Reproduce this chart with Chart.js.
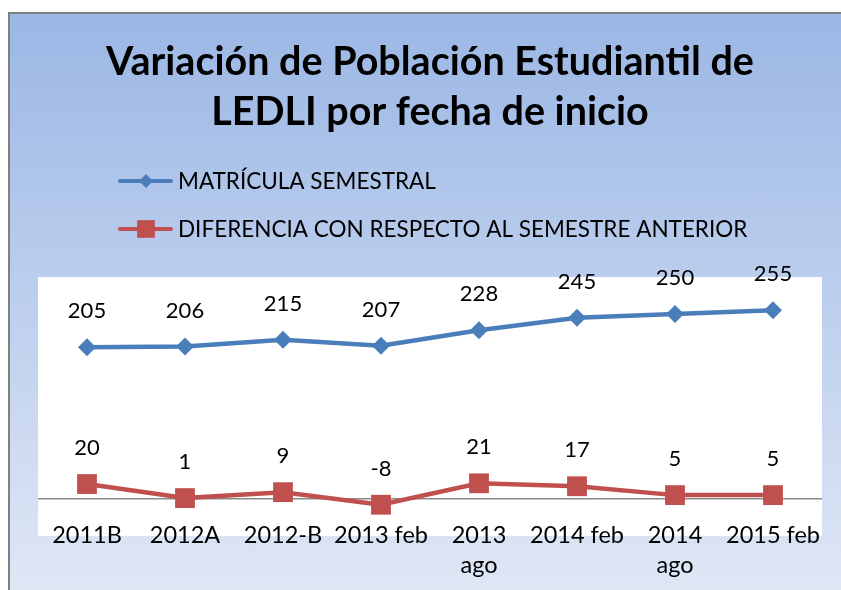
<!DOCTYPE html>
<html>
<head>
<meta charset="utf-8">
<script src="https://cdn.jsdelivr.net/npm/chart.js@4.4.1/dist/chart.umd.min.js"></script>
<style>
	html, body { margin: 0; padding: 0; background: #ffffff; }
	#frame {
		position: absolute;
		left: 8px; top: 12px;
		width: 833px; height: 578px;
		border-left: 2px solid #808080;
		border-top: 2px solid #808080;
		background: linear-gradient(#9bb7e5, #dfe7f5);
	}
	#chart { display: block; }
</style>
</head>
<body>
<div id="frame"><canvas id="chart" width="831" height="576"></canvas></div>
<script>
// donnees
var categories = ['2011B', '2012A', '2012-B', '2013 feb', ['2013', 'ago'], '2014 feb', ['2014', 'ago'], '2015 feb'];
var matricula = [205, 206, 215, 207, 228, 245, 250, 255];
var diferencia = [20, 1, 9, -8, 21, 17, 5, 5];
var seriesNames = ['MATRÍCULA SEMESTRAL', 'DIFERENCIA CON RESPECTO AL SEMESTRE ANTERIOR'];
var titleLines = ['Variación de Población Estudiantil de', 'LEDLI por fecha de inicio'];

var FONT = 'Lato, "Open Sans", sans-serif';
var BLUE = '#4a7ebb';
var RED = '#c0504d';

document.addEventListener('DOMContentLoaded', function()
{
	drawChart();
});

// fond blanc de la zone de trace (descend un peu sous l'axe comme dans Excel)
var plotBackground = {
	id: 'plotBackground',
	beforeDraw: function(chart) {
		var a = chart.chartArea;
		var ctx = chart.ctx;
		ctx.save();
		ctx.fillStyle = '#ffffff';
		ctx.fillRect(a.left, a.top, a.right - a.left, a.bottom - a.top + 15);
		ctx.restore();
	}
};

// titre + legende dessines a la main
var decor = {
	id: 'decor',
	afterDraw: function(chart) {
		var ctx = chart.ctx;
		var a = chart.chartArea;
		ctx.save();
		ctx.fillStyle = '#000000';
		ctx.textAlign = 'center';
		ctx.textBaseline = 'middle';
		ctx.font = 'bold 39.5px ' + FONT;
		var cx = (a.left + a.right) / 2;
		titleLines.forEach(function(line, i) {
			ctx.fillText(line, cx, 48 + i * 50);
		});

		ctx.textAlign = 'left';
		ctx.font = '22.5px ' + FONT;
		chart.data.datasets.forEach(function(ds, i) {
			var y = 167 + i * 48;
			ctx.strokeStyle = ds.borderColor;
			ctx.lineWidth = 4;
			ctx.lineCap = 'round';
			ctx.beginPath();
			ctx.moveTo(110, y);
			ctx.lineTo(161, y);
			ctx.stroke();
			ctx.fillStyle = ds.backgroundColor;
			Chart.helpers.drawPoint(ctx, {
				pointStyle: ds.pointStyle,
				radius: i == 0 ? 7 : 12.5,
				rotation: 0,
				borderWidth: 0
			}, 136, y);
			ctx.fillStyle = '#000000';
			ctx.fillText(ds.label, 168, y + 1);
		});
		ctx.restore();
	}
};

// etiquettes de valeurs au-dessus des points
var valueLabels = {
	id: 'valueLabels',
	afterDatasetsDraw: function(chart) {
		var ctx = chart.ctx;
		ctx.save();
		ctx.fillStyle = '#000000';
		ctx.textAlign = 'center';
		ctx.textBaseline = 'middle';
		ctx.font = '22px ' + FONT;
		chart.data.datasets.forEach(function(ds, i) {
			var meta = chart.getDatasetMeta(i);
			meta.data.forEach(function(pt, j) {
				ctx.fillText(String(ds.data[j]), pt.x, pt.y - 36);
			});
		});
		ctx.restore();
	}
};

function drawChart()
{
	var ctx = document.getElementById('chart').getContext('2d');
	new Chart(ctx, {
		type: 'line',
		data: {
			labels: categories,
			datasets: [{
				label: seriesNames[0],
				data: matricula,
				borderColor: BLUE,
				backgroundColor: BLUE,
				borderWidth: 4.5,
				pointStyle: 'rectRot',
				pointRadius: 9,
				pointBorderWidth: 0,
				tension: 0
			}, {
				label: seriesNames[1],
				data: diferencia,
				borderColor: RED,
				backgroundColor: RED,
				borderWidth: 4.5,
				pointStyle: 'rect',
				pointRadius: 14,
				pointBorderWidth: 0,
				tension: 0
			}]
		},
		options: {
			responsive: false,
			animation: false,
			layout: {
				padding: { left: 28, right: 19, top: 263, bottom: 0 }
			},
			plugins: {
				legend: { display: false },
				title: { display: false },
				tooltip: { enabled: false }
			},
			scales: {
				x: {
					offset: true,
					grid: { display: false, drawTicks: false },
					border: { display: false },
					ticks: {
						color: '#000000',
						font: { family: FONT, size: 23.5, lineHeight: 1.25 },
						padding: 0,
						maxRotation: 0,
						autoSkip: false
					},
					afterFit: function(scale) { scale.height = 69; }
				},
				y: {
					min: -30,
					max: 300,
					ticks: { display: false, stepSize: 30 },
					border: { display: false },
					grid: {
						drawTicks: false,
						lineWidth: 1.5,
						color: function(c) {
							return c.tick && c.tick.value === 0 ? '#8a8a8a' : 'rgba(0,0,0,0)';
						}
					}
				}
			}
		},
		plugins: [plotBackground, decor, valueLabels]
	});
}
</script>
</body>
</html>
